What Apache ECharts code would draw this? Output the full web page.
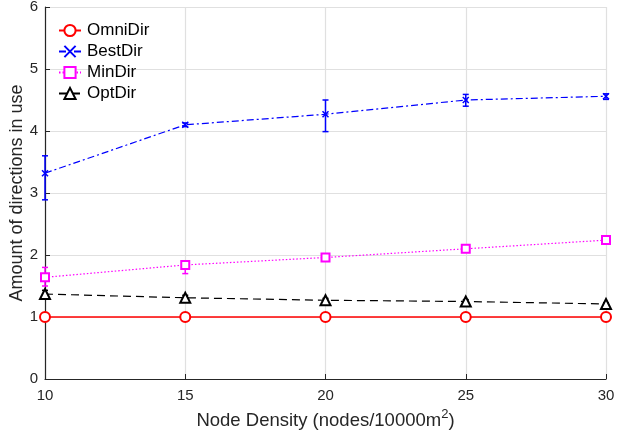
<!DOCTYPE html>
<html><head><meta charset="utf-8">
<script src="https://cdn.jsdelivr.net/npm/echarts@6/dist/echarts.min.js"></script>
<style>html,body{margin:0;padding:0;background:#fff}#c{width:618px;height:433px}</style>
</head><body><div id="c"></div>
<script>
const densities = [10, 15, 20, 25, 30];
const omniDir = [1, 1, 1, 1, 1];
const bestDir = [3.32, 4.10, 4.27, 4.50, 4.56];
const bestDirLow = [2.89, 4.07, 3.99, 4.40, 4.51];
const bestDirHigh = [3.60, 4.13, 4.50, 4.59, 4.60];
const minDir = [1.64, 1.84, 1.96, 2.10, 2.24];
const minDirLow = [1.50, 1.70, 1.93, 2.07, 2.21];
const minDirHigh = [1.80, 1.88, 1.99, 2.13, 2.27];
const optDir = [1.37, 1.31, 1.27, 1.25, 1.21];
const optDirLow = [1.31, 1.27, 1.24, 1.22, 1.19];
const optDirHigh = [1.43, 1.35, 1.30, 1.28, 1.23];
const yTicks = [0, 1, 2, 3, 4, 5, 6];

const font = 'Liberation Sans, Arial, sans-serif';
const txt = '#262626';

function pairs(ys){ return densities.map((x,i)=>[x, ys[i]]); }
function errData(lo, hi){ return densities.map((x,i)=>[x, lo[i], hi[i]]); }
function errSeries(lo, hi, color){
  return {
    type:'custom', data: errData(lo,hi), z: 3, silent:true,
    encode:{x:0, y:[1,2]},
    renderItem(params, api){
      const x = api.value(0);
      const a = api.coord([x, api.value(1)]);
      const b = api.coord([x, api.value(2)]);
      const w = 3;
      const st = {stroke: color, lineWidth: 1.5, fill: 'none'};
      return {type:'group', children:[
        {type:'line', shape:{x1:a[0],y1:a[1],x2:b[0],y2:b[1]}, style:st},
        {type:'line', shape:{x1:a[0]-w,y1:a[1],x2:a[0]+w,y2:a[1]}, style:st},
        {type:'line', shape:{x1:b[0]-w,y1:b[1],x2:b[0]+w,y2:b[1]}, style:st}
      ]};
    }
  };
}

const chart = echarts.init(document.getElementById('c'), null, {renderer:'canvas'});
chart.setOption({
  animation:false,
  backgroundColor:'#fff',
  grid:{left:45, right:12, top:7, bottom:54, show:false, containLabel:false, outerBoundsMode:'none'},
  legend:{
    left:53, top:17, orient:'vertical', itemWidth:22, itemHeight:14, itemGap:4,
    textStyle:{fontFamily:font, fontSize:17, color:'#000', padding:[0,0,0,1]},
    data:['OmniDir','BestDir','MinDir','OptDir']
  },
  xAxis:{
    type:'value', min:10, max:30, interval:5,
    name:'Node Density (nodes/10000m{sup|2})', nameLocation:'middle', nameGap:29, nameMoveOverlap:false,
    nameTextStyle:{fontFamily:font, fontSize:18.5, color:txt,
      rich:{sup:{fontFamily:font, fontSize:13, color:txt, verticalAlign:'top', padding:[0,0,12,0]}}},
    axisLine:{show:true, onZero:false, lineStyle:{color:txt, width:1.2}},
    axisTick:{show:true, inside:true, length:5, lineStyle:{color:txt}},
    axisLabel:{fontFamily:font, fontSize:15, color:txt, margin:9},
    splitLine:{show:true, lineStyle:{color:'#e0e0e0', width:1.2}}
  },
  yAxis:{
    type:'value', min:0, max:6, interval:1,
    name:'Amount of directions in use', nameLocation:'middle', nameGap:19, nameMoveOverlap:false,
    nameTextStyle:{fontFamily:font, fontSize:18, color:txt},
    axisLine:{show:true, lineStyle:{color:txt, width:1.2}},
    axisTick:{show:true, inside:true, length:5, lineStyle:{color:txt}},
    axisLabel:{fontFamily:font, fontSize:15, color:txt, margin:7,
      formatter: v => yTicks.includes(v) ? String(v) : ''},
    splitLine:{show:true, lineStyle:{color:'#e0e0e0', width:1.2}}
  },
  series:[
    {name:'OmniDir', type:'line', data:pairs(omniDir), symbol:'emptyCircle', symbolSize:10,
     lineStyle:{color:'#ff0000', width:1.3}, itemStyle:{color:'#ff0000', borderColor:'#ff0000', borderWidth:1.2}, z:4},
    {name:'BestDir', type:'line', data:pairs(bestDir),
     symbol:'path://M0,0L10,10M10,0L0,10', symbolSize:6,
     lineStyle:{color:'#0000ff', width:1.2, type:[7,3,2,3]},
     itemStyle:{color:'none', borderColor:'#0000ff', borderWidth:1.5}, z:4},
    {name:'MinDir', type:'line', data:pairs(minDir), symbol:'emptyRect', symbolSize:8,
     lineStyle:{color:'#ff00ff', width:1.2, type:[1.5,2]}, itemStyle:{color:'#ff00ff', borderColor:'#ff00ff', borderWidth:1.2}, z:4},
    {name:'OptDir', type:'line', data:pairs(optDir), symbol:'emptyTriangle', symbolSize:10,
     lineStyle:{color:'#000', width:1.2, type:[8,5]}, itemStyle:{color:'#000', borderColor:'#000', borderWidth:1.2}, z:4},
    errSeries(bestDirLow, bestDirHigh, '#0000ff'),
    errSeries(minDirLow, minDirHigh, '#ff00ff'),
    errSeries(optDirLow, optDirHigh, '#000')
  ]
});
</script></body></html>
